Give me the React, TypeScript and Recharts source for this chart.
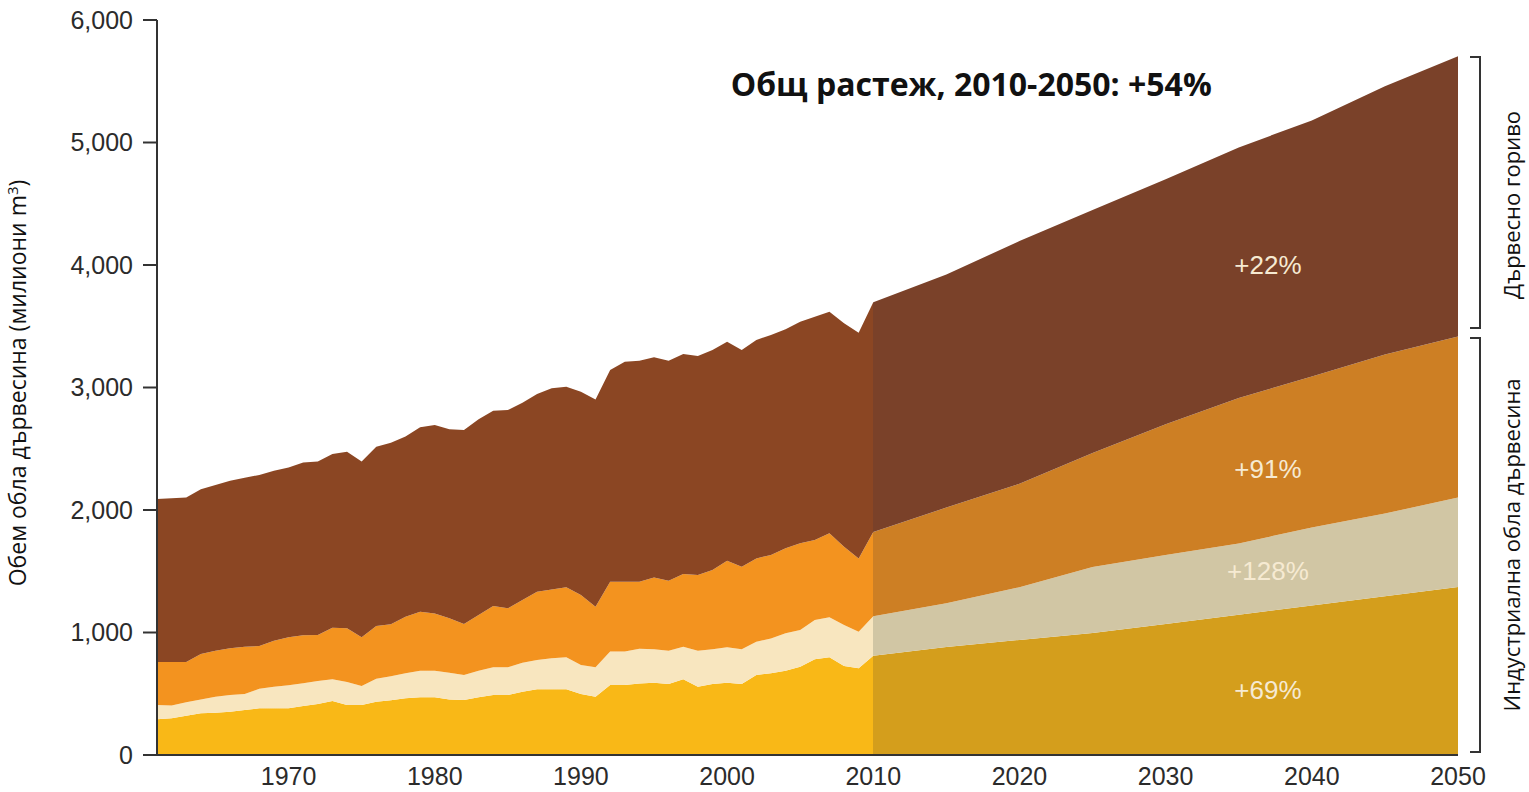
import { AreaChart, Area, XAxis, YAxis, ReferenceDot } from "recharts"

// years: annual history 1961-2010, projection every 5 years to 2050
const years = [
  1961, 1962, 1963, 1964, 1965, 1966, 1967, 1968, 1969, 1970,
  1971, 1972, 1973, 1974, 1975, 1976, 1977, 1978, 1979, 1980,
  1981, 1982, 1983, 1984, 1985, 1986, 1987, 1988, 1989, 1990,
  1991, 1992, 1993, 1994, 1995, 1996, 1997, 1998, 1999, 2000,
  2001, 2002, 2003, 2004, 2005, 2006, 2007, 2008, 2009, 2010,
  2015, 2020, 2025, 2030, 2035, 2040, 2045, 2050,
]

// million m3, per layer (bottom to top)
const sawlogs = [
  291, 299, 321, 340, 345, 354, 367, 381, 381, 381,
  400, 416, 441, 408, 408, 435, 447, 463, 471, 471,
  454, 449, 471, 490, 490, 517, 536, 536, 536, 498,
  476, 571, 571, 583, 590, 580, 618, 558, 580, 590,
  580, 653, 667, 688, 721, 781, 797, 727, 708, 811,
  882, 939, 995, 1070, 1145, 1220, 1296, 1371,
]
const otherRound = [
  117, 106, 109, 114, 131, 136, 131, 160, 177, 188,
  185, 188, 177, 188, 155, 188, 195, 204, 217, 217,
  218, 204, 217, 226, 226, 237, 240, 253, 261, 237,
  240, 273, 273, 284, 273, 272, 266, 294, 283, 289,
  283, 272, 285, 305, 299, 321, 327, 334, 299, 321,
  357, 431, 540, 563, 582, 638, 675, 731,
]
const pulpwood = [
  351, 354, 329, 370, 376, 381, 386, 349, 375, 392,
  392, 376, 421, 438, 398, 430, 426, 462, 482, 468,
  444, 416, 455, 500, 481, 511, 557, 563, 572, 571,
  495, 571, 571, 548, 587, 571, 594, 617, 647, 707,
  674, 680, 681, 694, 708, 653, 686, 640, 598, 688,
  781, 845, 930, 1067, 1188, 1232, 1299, 1314,
]
const woodfuel = [
  1330, 1336, 1344, 1345, 1352, 1368, 1380, 1396, 1388, 1385,
  1410, 1415, 1418, 1442, 1434, 1464, 1480, 1470, 1505, 1538,
  1543, 1584, 1597, 1595, 1619, 1611, 1614, 1641, 1638, 1660,
  1692, 1728, 1796, 1803, 1796, 1796, 1795, 1788, 1796, 1788,
  1769, 1783, 1796, 1788, 1809, 1823, 1809, 1823, 1842, 1876,
  1903, 1980, 1983, 2000, 2045, 2090, 2190, 2289,
]

const yTicks = [0, 1000, 2000, 3000, 4000, 5000, 6000]
const xTicks = [1970, 1980, 1990, 2000, 2010, 2020, 2030, 2040, 2050]

const START = 1961
const SPLIT_YEAR = 2010
const END = 2050

const layers = [
  { key: "sawlogs", past: "#F9B817", future: "#D49E1C", pct: "+69%", labelY: 530 },
  { key: "otherRound", past: "#F8E6BF", future: "#D1C6A4", pct: "+128%", labelY: 1500 },
  { key: "pulpwood", past: "#F3931F", future: "#CD7F24", pct: "+91%", labelY: 2335 },
  { key: "woodfuel", past: "#8B4623", future: "#7A4129", pct: "+22%", labelY: 4000 },
]

const data = years.map((year, i) => ({
  year,
  sawlogs: sawlogs[i],
  otherRound: otherRound[i],
  pulpwood: pulpwood[i],
  woodfuel: woodfuel[i],
}))

const split = (SPLIT_YEAR - START) / (END - START)
const numFont = "Liberation Sans, Arial, sans-serif"
const tickFont = { fill: "#2b2b2b", fontSize: 25, fontFamily: numFont }
const sideFont = "Open Sans, sans-serif"

export default function App() {
  return (
    <div style={{ position: "absolute", left: 0, top: 0, width: 1529, height: 792, background: "#fff" }}>
      <AreaChart
        width={1529}
        height={792}
        data={data}
        margin={{ top: 20, right: 71, bottom: 0, left: 57 }}
      >
        <defs>
          {layers.map((l) => (
            <linearGradient key={l.key} id={`g-${l.key}`} x1="0" y1="0" x2="1" y2="0">
              <stop offset={0} stopColor={l.past} />
              <stop offset={split} stopColor={l.past} />
              <stop offset={split} stopColor={l.future} />
              <stop offset={1} stopColor={l.future} />
            </linearGradient>
          ))}
        </defs>
        <XAxis
          dataKey="year"
          type="number"
          domain={[START, END]}
          ticks={xTicks}
          tickLine={false}
          axisLine={{ stroke: "#333", strokeWidth: 2 }}
          tick={tickFont}
          tickMargin={6}
          height={37}
        />
        <YAxis
          domain={[0, 6000]}
          ticks={yTicks}
          width={100}
          tickSize={14}
          tickMargin={10}
          axisLine={{ stroke: "#333", strokeWidth: 2 }}
          tickLine={{ stroke: "#333", strokeWidth: 2 }}
          tick={tickFont}
          tickFormatter={(v) => Number(v).toLocaleString("en-US")}
        />
        {layers.map((l) => (
          <Area
            key={l.key}
            type="linear"
            dataKey={l.key}
            stackId="a"
            stroke="none"
            fill={`url(#g-${l.key})`}
            fillOpacity={1}
            isAnimationActive={false}
          />
        ))}
        {layers.map((l) => (
          <ReferenceDot
            key={`pct-${l.key}`}
            x={2037}
            y={l.labelY}
            r={0}
            fill="none"
            stroke="none"
            label={{ value: l.pct, position: "center", fill: "#F6EAD2", fontSize: 26, fontFamily: numFont }}
          />
        ))}
        <ReferenceDot
          x={2016.7}
          y={5470}
          r={0}
          fill="none"
          stroke="none"
          ifOverflow="visible"
          label={{ value: "Общ растеж, 2010-2050: +54%", position: "center", fill: "#111", fontSize: 32, fontWeight: 700, fontFamily: sideFont }}
        />
      </AreaChart>
      <svg
        width={1529}
        height={792}
        style={{ position: "absolute", left: 0, top: 0, pointerEvents: "none" }}
      >
        <text
          transform="translate(26,383) rotate(-90)"
          textAnchor="middle"
          fontSize={23}
          fontFamily={sideFont}
          fill="#111"
        >
          Обем обла дървесина (милиони m<tspan dy={-8} fontSize={15}>3</tspan><tspan dy={8}>)</tspan>
        </text>
        <path d="M1470,57 H1480 V328 H1470" fill="none" stroke="#333" strokeWidth={2} />
        <path d="M1470,338 H1480 V752 H1470" fill="none" stroke="#333" strokeWidth={2} />
        <text
          transform="translate(1520,205) rotate(-90)"
          textAnchor="middle"
          fontSize={22}
          fontFamily={sideFont}
          fill="#111"
        >
          Дървесно гориво
        </text>
        <text
          transform="translate(1520,545) rotate(-90)"
          textAnchor="middle"
          fontSize={22}
          fontFamily={sideFont}
          fill="#111"
        >
          Индустриална обла дървесина
        </text>
      </svg>
    </div>
  )
}
